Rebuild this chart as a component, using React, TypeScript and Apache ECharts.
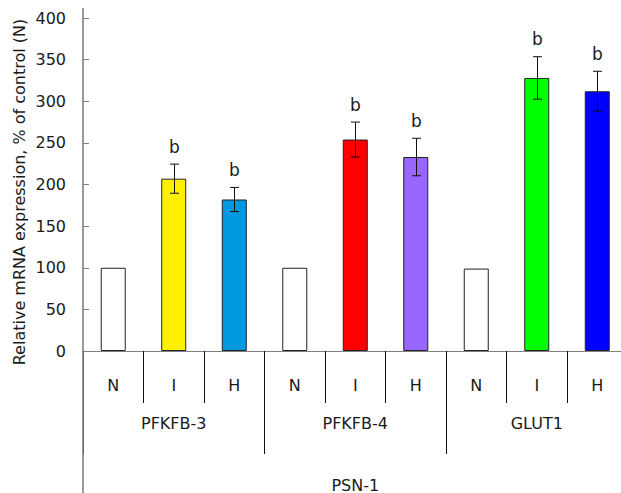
import React, { useEffect, useRef } from 'react';
import * as echarts from 'echarts';

const categories = ['N', 'I', 'H', 'N', 'I', 'H', 'N', 'I', 'H'];
const groups = ['PFKFB-3', 'PFKFB-4', 'GLUT1'];
const cellLine = ['PSN-1'];
const values = [100, 207, 182, 100, 254, 233, 99, 328, 312];
const errors = [0, 17.5, 14.5, 0, 21, 22.5, 0, 25.5, 24];
const significance = ['', 'b', 'b', '', 'b', 'b', '', 'b', 'b'];
const barColors = ['#FFFFFF', '#FFF000', '#0099E0', '#FFFFFF', '#FF0000', '#9966FF', '#FFFFFF', '#00FF00', '#0000FF'];
const yMin = 0;
const yMax = 400;
const yStep = 50;
const yLabel = 'Relative mRNA expression, % of control (N)';

const FONT = 'DejaVu Sans';
const FS = 16;
const TEXT = '#1a1a1a';
const AXIS_GRAY = '#808080';

export default function App() {
  const ref = useRef<HTMLDivElement>(null);
  useEffect(() => {
    if (!ref.current) return;
    const chart = echarts.init(ref.current, undefined, { renderer: 'svg' });
    const gridBox = { left: 83, top: 18, width: 544.5, height: 333 };
    const option: any = {
      animation: false,
      textStyle: { fontFamily: FONT },
      grid: [
        { ...gridBox },
        { ...gridBox },
        { ...gridBox },
      ],
      xAxis: [
        {
          type: 'category',
          gridIndex: 0,
          data: categories,
          position: 'bottom',
          boundaryGap: true,
          axisLine: { show: true, lineStyle: { color: AXIS_GRAY, width: 1 } },
          axisTick: { show: true, length: 52, lineStyle: { color: '#111', width: 1 } },
          axisLabel: { margin: 26, fontSize: FS, color: TEXT, fontFamily: FONT },
        },
        {
          type: 'category',
          gridIndex: 1,
          data: groups,
          position: 'bottom',
          boundaryGap: true,
          axisLine: { show: false },
          axisTick: { show: true, length: 103, lineStyle: { color: '#111', width: 1 } },
          axisLabel: { margin: 64, fontSize: FS, color: TEXT, fontFamily: FONT },
        },
        {
          type: 'category',
          gridIndex: 2,
          data: cellLine,
          position: 'bottom',
          boundaryGap: true,
          axisLine: { show: false },
          axisTick: { show: false },
          axisLabel: { margin: 126, fontSize: FS, color: TEXT, fontFamily: FONT },
        },
      ],
      yAxis: [
        {
          type: 'value',
          gridIndex: 0,
          min: yMin,
          max: yMax,
          interval: yStep,
          axisLine: { show: false },
          axisTick: { show: true, inside: true, length: 6, lineStyle: { color: AXIS_GRAY } },
          splitLine: { show: false },
          axisLabel: { margin: 17, fontSize: FS, color: TEXT, fontFamily: FONT },
        },
        { type: 'value', gridIndex: 1, show: false, min: yMin, max: yMax },
        { type: 'value', gridIndex: 2, show: false, min: yMin, max: yMax },
      ],
      series: [
        {
          type: 'bar',
          xAxisIndex: 0,
          yAxisIndex: 0,
          barWidth: 25,
          data: values.map((v, i) => ({
            value: v,
            itemStyle: { color: barColors[i], borderColor: '#222', borderWidth: 1 },
          })),
        },
        {
          type: 'custom',
          xAxisIndex: 0,
          yAxisIndex: 0,
          z: 5,
          data: values.map((v, i) => [i, v, errors[i]]),
          renderItem: (params: any, api: any) => {
            const x = api.value(0);
            const v = api.value(1);
            const e = api.value(2);
            const top = api.coord([x, v + e]);
            const bot = api.coord([x, v - e]);
            const cx = Math.round(top[0]) + 0.5;
            const children: any[] = [];
            const ls = { stroke: '#111', lineWidth: 1 };
            if (e > 0) {
              children.push({ type: 'line', shape: { x1: cx, y1: top[1], x2: cx, y2: bot[1] }, style: ls });
              children.push({ type: 'line', shape: { x1: cx - 4.5, y1: top[1], x2: cx + 4.5, y2: top[1] }, style: ls });
              children.push({ type: 'line', shape: { x1: cx - 4.5, y1: bot[1], x2: cx + 4.5, y2: bot[1] }, style: ls });
            }
            const s = significance[params.dataIndex];
            if (s) {
              children.push({
                type: 'text',
                style: {
                  text: s,
                  x: cx,
                  y: top[1] - 9,
                  align: 'center',
                  verticalAlign: 'bottom',
                  fontSize: 17,
                  fontFamily: FONT,
                  fill: TEXT,
                },
              });
            }
            return { type: 'group', children };
          },
        },
      ],
      graphic: [
        {
          type: 'line',
          z: 100,
          shape: { x1: 83, y1: 8, x2: 83, y2: 493 },
          style: { stroke: AXIS_GRAY, lineWidth: 1.6 },
        },
        {
          type: 'text',
          x: 19,
          y: 192,
          rotation: Math.PI / 2,
          style: {
            text: yLabel,
            align: 'center',
            verticalAlign: 'middle',
            fontSize: FS,
            fontFamily: FONT,
            fill: TEXT,
          },
        },
      ],
    };
    chart.setOption(option);
    return () => chart.dispose();
  }, []);
  return (
    <div
      ref={ref}
      style={{ position: 'fixed', left: 0, top: 0, width: 632, height: 493, background: '#fff' }}
    />
  );
}
